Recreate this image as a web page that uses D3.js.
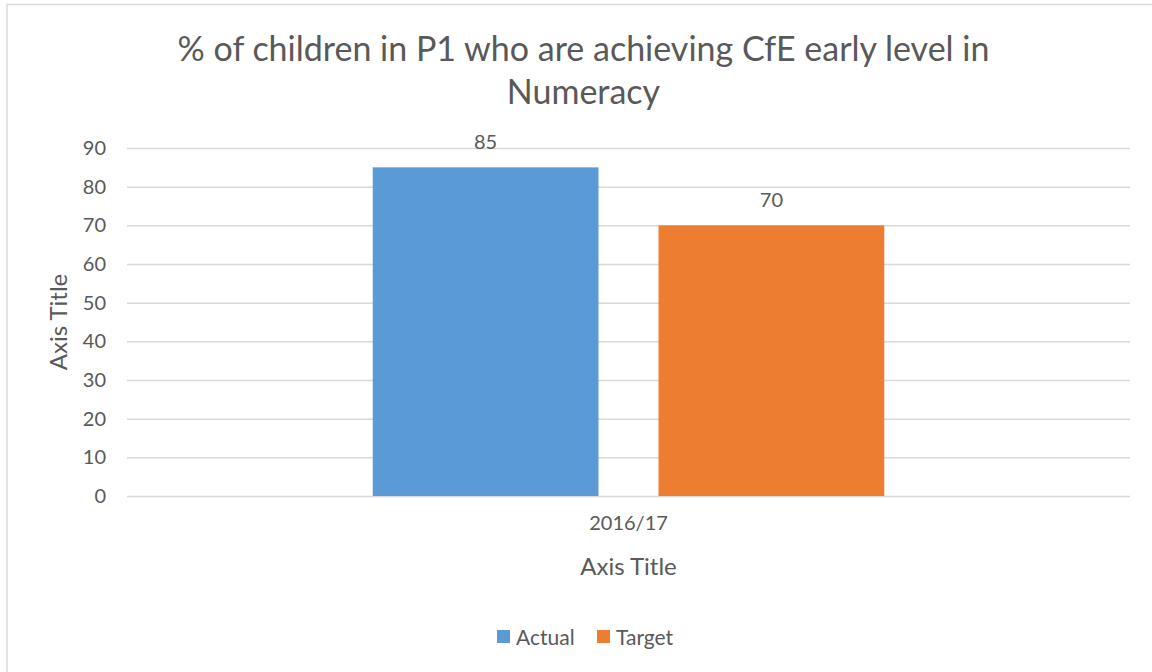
<!DOCTYPE html>
<html>
<head>
<meta charset="utf-8">
<script src="https://cdn.jsdelivr.net/npm/d3@7"></script>
<style>
	body { margin: 0; background: #fff; }
	text { font-family: Lato, "Open Sans", sans-serif; fill: #595959; }
</style>
</head>
<body>
<svg></svg>
<script>
var width = 1152,
	height = 672;

// chart data
var categories = ["2016/17"];
var seriesNames = ["Actual", "Target"];
var actualValues = [85];
var targetValues = [70];
var yTicks = [0, 10, 20, 30, 40, 50, 60, 70, 80, 90];
var colours = ["#5b9bd5", "#ed7d31"];

var titleLines = ["% of children in P1 who are achieving CfE early level in", "Numeracy"];

var svg = d3.select("svg").attr("width", width).attr("height", height);

// chart border
svg.append("rect")
	.attr("x", 7).attr("y", 4.5)
	.attr("width", width + 10).attr("height", height + 10)
	.attr("fill", "#fff").attr("stroke", "#d9d9d9").attr("stroke-width", 1.5);

var plot = { left: 127, right: 1130, top: 148, bottom: 496 };

var x = d3.scaleBand().domain(categories)
	.range([plot.left, plot.right])
	.paddingInner(0.49).paddingOuter(0.245);
var xs = d3.scaleBand().domain(seriesNames)
	.range([0, x.bandwidth()])
	.paddingInner(0.21).paddingOuter(0);
var y = d3.scaleLinear().domain([0, 90]).range([plot.bottom, plot.top]);

// gridlines
var grid = svg.append("g")
	.attr("transform", `translate(${plot.left},0)`)
	.call(d3.axisLeft(y).tickValues(yTicks).tickSize(-(plot.right - plot.left)).tickFormat(""));
grid.select(".domain").remove();
grid.selectAll("line").attr("stroke", "#d9d9d9").attr("stroke-width", 1.5);

// y tick labels
var yAxis = svg.append("g")
	.attr("transform", `translate(${plot.left - 21},0)`)
	.call(d3.axisLeft(y).tickValues(yTicks).tickSize(0).tickPadding(0));
yAxis.select(".domain").remove();
yAxis.selectAll("text").style("font-size", "20px").attr("fill", "#595959");

// x axis labels
var xAxis = svg.append("g")
	.attr("transform", `translate(0,${plot.bottom})`)
	.call(d3.axisBottom(x).tickSize(0).tickPadding(20));
xAxis.select(".domain").remove();
xAxis.selectAll("text").style("font-size", "20px").attr("fill", "#595959");

// bars
var rows = categories.map((c, i) => ({ cat: c, values: [actualValues[i], targetValues[i]] }));
var groups = svg.selectAll(".grp").data(rows).enter().append("g")
	.attr("class", "grp")
	.attr("transform", (d) => `translate(${x(d.cat)},0)`);

groups.selectAll("rect").data((d) => d.values.map((v, j) => ({ name: seriesNames[j], v: v, j: j })))
	.enter().append("rect")
	.attr("x", (d) => xs(d.name))
	.attr("width", xs.bandwidth())
	.attr("y", (d) => y(d.v))
	.attr("height", (d) => y(0) - y(d.v))
	.attr("fill", (d) => colours[d.j]);

groups.selectAll(".lbl").data((d) => d.values.map((v, j) => ({ name: seriesNames[j], v: v })))
	.enter().append("text")
	.attr("class", "lbl")
	.attr("x", (d) => xs(d.name) + xs.bandwidth() / 2)
	.attr("y", (d) => y(d.v) - 18)
	.attr("text-anchor", "middle")
	.style("font-size", "20px")
	.text((d) => d.v);

// title
svg.append("g").selectAll("text").data(titleLines).enter().append("text")
	.attr("x", (plot.left + plot.right) / 2 - 45)
	.attr("y", (d, i) => 61 + i * 43)
	.attr("text-anchor", "middle")
	.style("font-size", "34px")
	.text((d) => d);

// axis titles
svg.append("text")
	.attr("transform", `translate(67,${(plot.top + plot.bottom) / 2}) rotate(-90)`)
	.attr("text-anchor", "middle")
	.style("font-size", "24px")
	.text("Axis Title");

svg.append("text")
	.attr("x", x(categories[0]) + x.bandwidth() / 2)
	.attr("y", 575)
	.attr("text-anchor", "middle")
	.style("font-size", "24px")
	.text("Axis Title");

// legend
var legend = svg.append("g").attr("transform", "translate(497,637)");
var items = legend.selectAll("g").data(seriesNames).enter().append("g")
	.attr("transform", (d, i) => `translate(${i * 100},0)`);
items.append("rect")
	.attr("x", 0).attr("y", -7)
	.attr("width", 13).attr("height", 13)
	.attr("fill", (d, i) => colours[i]);
items.append("text")
	.attr("x", 19).attr("y", 8)
	.style("font-size", "21px")
	.text((d) => d);
</script>
</body>
</html>
